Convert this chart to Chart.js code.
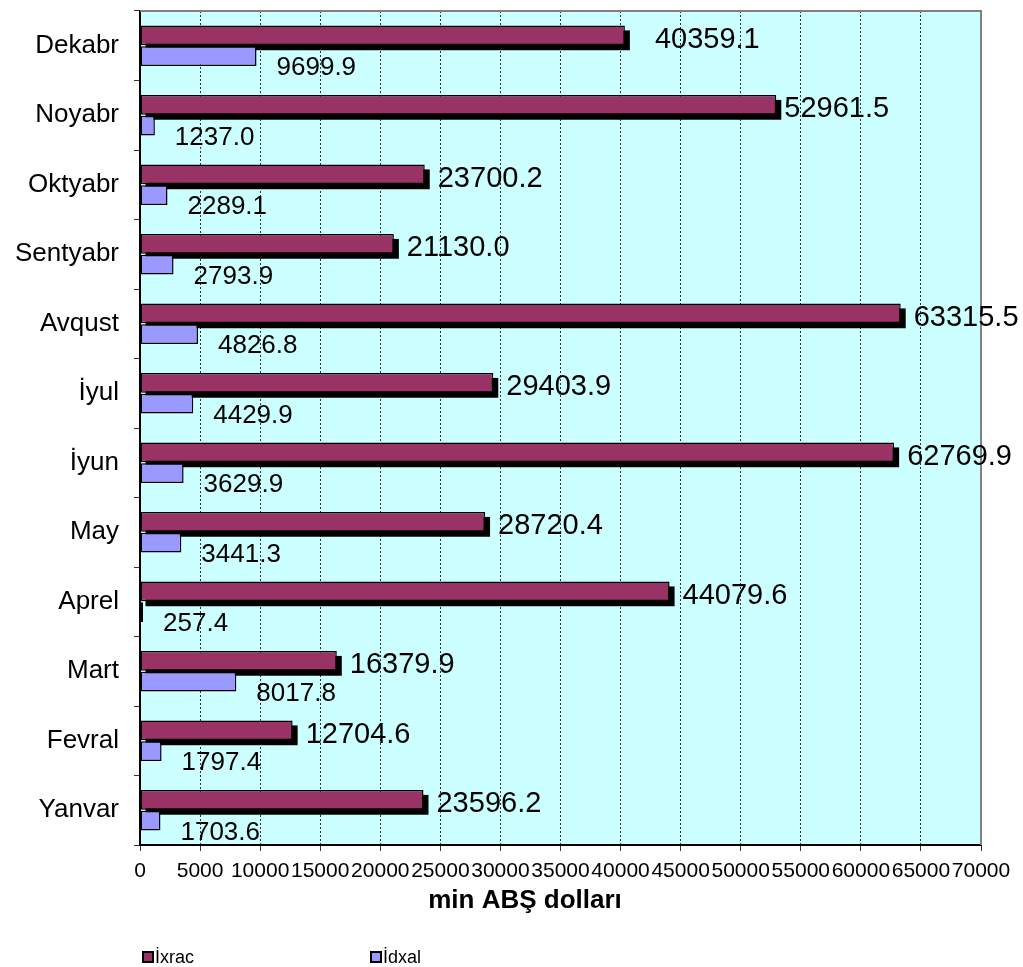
<!DOCTYPE html>
<html>
<head>
<meta charset="utf-8">
<script src="https://cdn.jsdelivr.net/npm/chart.js@4"></script>
<style>
  html, body { margin: 0; padding: 0; background: #fff; }
  #wrap { width: 1023px; height: 967px; }
</style>
</head>
<body>
<div id="wrap"><canvas id="c" width="1023" height="967"></canvas></div>
<script>
// ---- data ----
const months = ["Yanvar", "Fevral", "Mart", "Aprel", "May", "İyun", "İyul", "Avqust", "Sentyabr", "Oktyabr", "Noyabr", "Dekabr"];
const ixrac = [23596.2, 12704.6, 16379.9, 44079.6, 28720.4, 62769.9, 29403.9, 63315.5, 21130.0, 23700.2, 52961.5, 40359.1];
const idxal = [1703.6, 1797.4, 8017.8, 257.4, 3441.3, 3629.9, 4429.9, 4826.8, 2793.9, 2289.1, 1237.0, 9699.9];
const seriesNames = ["İxrac", "İdxal"];
const xTickValues = [0, 5000, 10000, 15000, 20000, 25000, 30000, 35000, 40000, 45000, 50000, 55000, 60000, 65000, 70000];
const axisTitle = "min ABŞ dolları";

// ---- styles ----
const COL_IX = "#993366";
const COL_ID = "#9999FF";
const PLOT_BG = "#CCFFFF";
const FONT = "Arial, 'Liberation Sans', sans-serif";
const ixracLabelDx = [0, 0, 0, 0, 0, 0, 0, 0, 0, 0, -5, 17];

const plotBg = {
  id: "plotBg",
  beforeDraw(chart) {
    const { ctx, chartArea: a } = chart;
    ctx.save();
    ctx.fillStyle = "#fff";
    ctx.fillRect(0, 0, chart.width, chart.height);
    ctx.fillStyle = PLOT_BG;
    ctx.fillRect(a.left, a.top, a.right - a.left, a.bottom - a.top);
    ctx.restore();
  },
  beforeDatasetsDraw(chart) {
    const { ctx, chartArea: a } = chart;
    ctx.save();
    ctx.strokeStyle = "#808080";
    ctx.lineWidth = 2;
    ctx.beginPath();
    ctx.moveTo(a.left, a.top);
    ctx.lineTo(a.right, a.top);
    ctx.lineTo(a.right, a.bottom);
    ctx.stroke();
    // shadows for export bars
    const meta = chart.getDatasetMeta(0);
    ctx.fillStyle = "#000";
    meta.data.forEach(el => {
      const p = el.getProps(["x", "y", "base", "height"], true);
      const l = Math.min(p.x, p.base), r = Math.max(p.x, p.base);
      ctx.fillRect(l + 5, p.y - p.height / 2 + 5, r - l, p.height);
    });
    ctx.restore();
  },
  afterDatasetsDraw(chart) {
    const { ctx } = chart;
    ctx.save();
    ctx.fillStyle = "#000";
    ctx.textAlign = "left";
    ctx.textBaseline = "alphabetic";
    const m0 = chart.getDatasetMeta(0);
    ctx.font = "29px " + FONT;
    m0.data.forEach((el, i) => {
      const p = el.getProps(["x", "y"], true);
      ctx.fillText(ixrac[i].toFixed(1), p.x + 13 + ixracLabelDx[i], p.y + 2 + 0.358 * 29);
    });
    const m1 = chart.getDatasetMeta(1);
    ctx.font = "26px " + FONT;
    m1.data.forEach((el, i) => {
      const p = el.getProps(["x", "y"], true);
      ctx.fillText(idxal[i].toFixed(1), p.x + 20, p.y + 10 + 0.358 * 26);
    });
    ctx.restore();
  },
  afterDraw(chart) {
    const { ctx } = chart;
    ctx.save();
    ctx.fillStyle = "#000";
    ctx.font = "bold 26px " + FONT;
    ctx.textAlign = "center";
    ctx.textBaseline = "middle";
    ctx.fillText(axisTitle, 525, 901);
    // legend
    const items = [{ x: 143 }, { x: 371 }];
    ctx.font = "18px " + FONT;
    ctx.textAlign = "left";
    chart.data.datasets.forEach((ds, i) => {
      const x = items[i].x, y = 957;
      ctx.fillStyle = ds.backgroundColor;
      ctx.fillRect(x, y - 5, 10, 10);
      ctx.strokeStyle = "#000";
      ctx.lineWidth = 2;
      ctx.strokeRect(x, y - 5, 10, 10);
      ctx.fillStyle = "#000";
      ctx.fillText(ds.label, x + 12, y + 1);
    });
    ctx.restore();
  }
};

new Chart(document.getElementById("c"), {
  type: "bar",
  data: {
    labels: months,
    datasets: [
      { label: seriesNames[0], data: ixrac, backgroundColor: COL_IX, borderColor: "#000", borderWidth: 1.5, borderSkipped: false },
      { label: seriesNames[1], data: idxal, backgroundColor: COL_ID, borderColor: "#000", borderWidth: 1.5, borderSkipped: false }
    ]
  },
  options: {
    indexAxis: "y",
    responsive: false,
    animation: false,
    categoryPercentage: 0.6,
    barPercentage: 0.95,
    layout: { padding: { left: 0, right: 42, top: 11, bottom: 0 } },
    plugins: { legend: { display: false }, tooltip: { enabled: false }, title: { display: false } },
    scales: {
      y: {
        type: "category",
        reverse: true,
        offset: true,
        afterFit(s) { s.width = 140; s.paddingTop = 0; s.paddingBottom = 0; },
        grid: { drawOnChartArea: false, drawTicks: true, tickLength: 6, color: "#333", offset: true },
        border: { color: "#000", width: 2 },
        ticks: { color: "#000", font: { family: FONT, size: 26 }, padding: 15 }
      },
      x: {
        type: "linear",
        min: 0,
        max: 70000,
        afterFit(s) { s.height = 122; s.paddingLeft = 0; s.paddingRight = 0; },
        afterBuildTicks(s) { s.ticks = xTickValues.map(v => ({ value: v })); },
        grid: {
          color: c => (c.index === xTickValues.length - 1 ? "rgba(0,0,0,0)" : "#333"),
          lineWidth: 1,
          tickLength: 6,
          tickColor: "#333",
          tickBorderDash: []
        },
        border: { color: "#000", width: 2, dash: [2, 2] },
        ticks: { color: "#000", font: { family: FONT, size: 21 }, maxRotation: 0, minRotation: 0, autoSkip: false, padding: 8, callback: v => String(v) }
      }
    }
  },
  plugins: [plotBg]
});
</script>
</body>
</html>
